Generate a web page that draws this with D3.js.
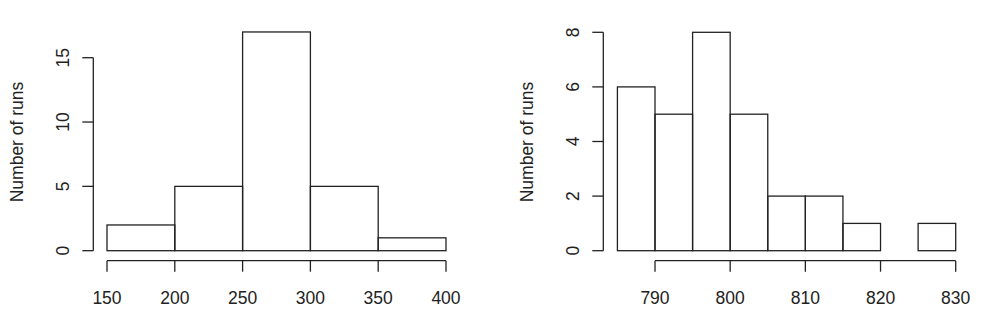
<!DOCTYPE html>
<html>
<head>
  <script src="https://d3js.org/d3.v7.min.js"></script>
  <style>
    body { margin: 0; background: #fff; }
    text { font-family: "Liberation Sans", Arial, sans-serif; font-size: 17.5px; fill: #222; }
  </style>
</head>
<body>
  <div id="plot"></div>
  <script>
    // left histogram
    var leftBreaks = [150, 200, 250, 300, 350, 400];
    var leftCounts = [2, 5, 17, 5, 1];
    var leftXTicks = [150, 200, 250, 300, 350, 400];
    var leftYTicks = [0, 5, 10, 15];

    // right histogram
    var rightBreaks = [785, 790, 795, 800, 805, 810, 815, 820, 825, 830];
    var rightCounts = [6, 5, 8, 5, 2, 2, 1, 0, 1];
    var rightXTicks = [790, 800, 810, 820, 830];
    var rightYTicks = [0, 2, 4, 6, 8];

    var yLabel = "Number of runs";

    var w = 989, h = 335;
    var svg = d3.select("#plot").append("svg")
      .attr("width", w)
      .attr("height", h);

    function histogram(opts) {
      var x = d3.scaleLinear().domain(opts.xDomain).range(opts.xRange);
      var y = d3.scaleLinear().domain(opts.yDomain).range([250.7, opts.yTop]);
      var g = svg.append("g");

      var bins = opts.counts.map(function(c, i) {
        return { x0: opts.breaks[i], x1: opts.breaks[i + 1], n: c };
      });

      g.selectAll("rect.bar").data(bins).enter().append("rect")
        .attr("class", "bar")
        .attr("x", function(d) { return x(d.x0); })
        .attr("width", function(d) { return x(d.x1) - x(d.x0); })
        .attr("y", function(d) { return y(d.n); })
        .attr("height", function(d) { return y(0) - y(d.n); })
        .attr("fill", "none")
        .attr("stroke", "#222")
        .attr("stroke-width", 1.3);

      // x axis, R style: line from first to last tick, ticks below
      var xa = g.append("g").attr("transform", "translate(0,260.7)");
      var xt = opts.xTicks;
      xa.append("line")
        .attr("x1", x(xt[0])).attr("x2", x(xt[xt.length - 1]))
        .attr("stroke", "#222").attr("stroke-width", 1.3);
      xa.selectAll("line.tick").data(xt).enter().append("line")
        .attr("class", "tick")
        .attr("x1", function(d) { return x(d); })
        .attr("x2", function(d) { return x(d); })
        .attr("y1", 0).attr("y2", 11)
        .attr("stroke", "#222").attr("stroke-width", 1.3);
      xa.selectAll("text").data(xt).enter().append("text")
        .attr("x", function(d) { return x(d); })
        .attr("y", 43.5)
        .attr("text-anchor", "middle")
        .text(function(d) { return d; });

      // y axis
      var yt = opts.yTicks;
      var ya = g.append("g").attr("transform", "translate(" + opts.yAxisX + ",0)");
      ya.append("line")
        .attr("y1", y(yt[0])).attr("y2", y(yt[yt.length - 1]))
        .attr("stroke", "#222").attr("stroke-width", 1.3);
      ya.selectAll("line.tick").data(yt).enter().append("line")
        .attr("class", "tick")
        .attr("x1", -11).attr("x2", 0)
        .attr("y1", function(d) { return y(d); })
        .attr("y2", function(d) { return y(d); })
        .attr("stroke", "#222").attr("stroke-width", 1.3);
      ya.selectAll("text").data(yt).enter().append("text")
        .attr("transform", function(d) { return "translate(-24," + y(d) + ") rotate(-90)"; })
        .attr("text-anchor", "middle")
        .text(function(d) { return d; });

      // y label
      g.append("text")
        .attr("transform", "translate(" + opts.labelX + ",142) rotate(-90)")
        .attr("text-anchor", "middle")
        .text(yLabel);
    }

    histogram({
      breaks: leftBreaks, counts: leftCounts,
      xTicks: leftXTicks, yTicks: leftYTicks,
      xDomain: [150, 400], xRange: [107, 446],
      yDomain: [0, 15], yTop: 57.7,
      yAxisX: 93.3, labelX: 23
    });

    histogram({
      breaks: rightBreaks, counts: rightCounts,
      xTicks: rightXTicks, yTicks: rightYTicks,
      xDomain: [790, 830], xRange: [655, 955.7],
      yDomain: [0, 8], yTop: 32.3,
      yAxisX: 603.3, labelX: 533
    });
  </script>
</body>
</html>
